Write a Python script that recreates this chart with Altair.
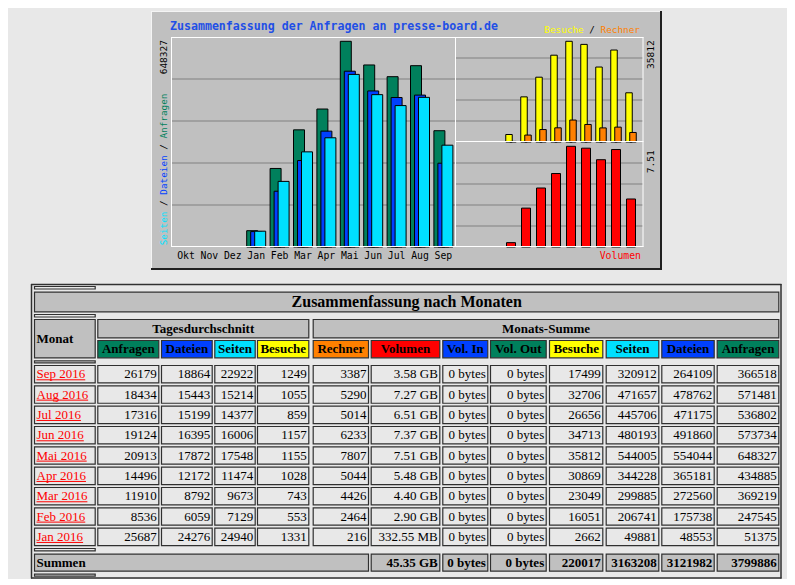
import altair as alt
import pandas as pd

# ---------------- values read from the Webalizer summary (newest month first) ----------------
monat = ["Sep 2016", "Aug 2016", "Jul 2016", "Jun 2016", "Mai 2016",
         "Apr 2016", "Mar 2016", "Feb 2016", "Jan 2016"]
tag_anfragen = [26179, 18434, 17316, 19124, 20913, 14496, 11910, 8536, 25687]
tag_dateien = [18864, 15443, 15199, 16395, 17872, 12172, 8792, 6059, 24276]
tag_seiten = [22922, 15214, 14377, 16006, 17548, 11474, 9673, 7129, 24940]
tag_besuche = [1249, 1055, 859, 1157, 1155, 1028, 743, 553, 1331]
sum_rechner = [3387, 5290, 5014, 6233, 7807, 5044, 4426, 2464, 216]
sum_volumen = ["3.58 GB", "7.27 GB", "6.51 GB", "7.37 GB", "7.51 GB",
               "5.48 GB", "4.40 GB", "2.90 GB", "332.55 MB"]
sum_vol_in = ["0 bytes"] * 9
sum_vol_out = ["0 bytes"] * 9
sum_besuche = [17499, 32706, 26656, 34713, 35812, 30869, 23049, 16051, 2662]
sum_seiten = [320912, 471657, 445706, 480193, 544005, 344228, 299885, 206741, 49881]
sum_dateien = [264109, 478762, 471175, 491860, 554044, 365181, 272560, 175738, 48553]
sum_anfragen = [366518, 571481, 536802, 573734, 648327, 434885, 369219, 247545, 51375]
summen = ["45.35 GB", "0 bytes", "0 bytes", "220017", "3163208", "3121982", "3799886"]

graph_months = ["Okt", "Nov", "Dez", "Jan", "Feb", "Mar", "Apr", "Mai", "Jun", "Jul", "Aug", "Sep"]
head_cols = ["Anfragen", "Dateien", "Seiten", "Besuche", "Rechner", "Volumen",
             "Vol. In", "Vol. Out", "Besuche", "Seiten", "Dateien", "Anfragen"]

# ---------------- styling ----------------
C_ANF, C_DAT, C_SEI = "#00805c", "#0040ff", "#00e0ff"
C_BES, C_REC, C_VOL = "#ffff00", "#ff8000", "#ff0000"
GREY, PAGE, DARK = "#c0c0c0", "#e8e8e8", "#303030"
head_colors = [C_ANF, C_DAT, C_SEI, C_BES, C_REC, C_VOL, C_DAT, C_ANF, C_BES, C_SEI, C_DAT, C_ANF]
MONO = "DejaVu Sans Mono"
SERIF = "Liberation Serif"
OFF = 8


def P(v):
    return round(v - OFF, 2)


def to_gb(s):
    v, u = s.split()
    return float(v) / 1024 if u == "MB" else float(v)


# chronological graph data (Jan .. Sep)
order = list(range(len(monat)))[::-1]
g = pd.DataFrame({
    "mon": [monat[i].split()[0] for i in order],
    "anfragen": [sum_anfragen[i] for i in order],
    "dateien": [sum_dateien[i] for i in order],
    "seiten": [sum_seiten[i] for i in order],
    "besuche": [sum_besuche[i] for i in order],
    "rechner": [sum_rechner[i] for i in order],
    "volumen": [to_gb(sum_volumen[i]) for i in order],
})


def rect_layer(df, **mk):
    return alt.Chart(df).mark_rect(**mk).encode(
        x=alt.X("x:Q", scale=None, axis=None), x2="x2:Q",
        y=alt.Y("y:Q", scale=None, axis=None), y2="y2:Q",
        fill=alt.Fill("fill:N", scale=None))


def line_layer(df):
    return alt.Chart(df).mark_rule().encode(
        x=alt.X("x:Q", scale=None, axis=None), x2="x2:Q",
        y=alt.Y("y:Q", scale=None, axis=None), y2="y2:Q",
        stroke=alt.Stroke("c:N", scale=None),
        strokeWidth=alt.StrokeWidth("w:Q", scale=None))


def text_layer(rows, **mk):
    return alt.Chart(pd.DataFrame(rows)).mark_text(**mk).encode(
        x=alt.X("x:Q", scale=None, axis=None), y=alt.Y("y:Q", scale=None, axis=None),
        text="t:N", color=alt.Color("c:N", scale=None))


def L(x, x2, y, y2, c, w=1):
    return {"x": P(x), "x2": P(x2), "y": P(y), "y2": P(y2), "c": c, "w": w}


layers = []

# ---------------- graphic box ----------------
layers.append(rect_layer(pd.DataFrame([{"x": P(151), "x2": P(662), "y": P(11), "y2": P(270), "fill": GREY}])))
layers.append(line_layer(pd.DataFrame([
    L(151, 662, 11.5, 11.5, "#f4f4f4"), L(151.5, 151.5, 11, 270, "#f4f4f4"),
    L(151, 662, 269, 269, "#202020", 2), L(661, 661, 11, 270, "#202020", 2),
])))

# scales
MX0, MX1, MT, MB = 171, 455.7, 37, 247
main_ymax = max(sum_anfragen) * (MB - MT) / (MB - 41.3)
main_x = alt.Scale(type="band", domain=graph_months, range=[P(174.3), P(455.1)], paddingInner=0, paddingOuter=0)
main_y = alt.Scale(domain=[0, main_ymax], range=[P(MB), P(MT)], nice=False)

RX0, RX1, RT, RM, RB = 456, 643, 37, 142, 247
rt_ymax = max(sum_besuche) * (RM - RT) / (RM - 41.3)
rb_ymax = max(g["volumen"]) * (RB - RM) / (RB - 146.3)
r_x = alt.Scale(type="band", domain=graph_months, range=[P(458.5), P(638.5)], paddingInner=0, paddingOuter=0)
rt_y = alt.Scale(domain=[0, rt_ymax], range=[P(RM), P(RT)], nice=False)
rb_y = alt.Scale(domain=[0, rb_ymax], range=[P(RB), P(RM)], nice=False)


def grid(ymax, ys, x0, x1):
    df = pd.DataFrame({"v": [ymax * k / 5 for k in range(1, 5)]})
    return alt.Chart(df).mark_rule(color="#808080", strokeWidth=1).encode(
        y=alt.Y("v:Q", scale=ys, axis=None), x=alt.value(P(x0)), x2=alt.value(P(x1)))


layers += [grid(main_ymax, main_y, MX0, MX1), grid(rt_ymax, rt_y, RX0, RX1), grid(rb_ymax, rb_y, RX0, RX1)]


def bars(field, color, xs, ys, size, xoff):
    return alt.Chart(g).mark_bar(size=size, xOffset=xoff, fill=color, stroke="black", strokeWidth=1).encode(
        x=alt.X("mon:N", scale=xs, axis=None),
        y=alt.Y(f"{field}:Q", scale=ys, axis=None))


layers += [
    bars("anfragen", C_ANF, main_x, main_y, 11, -4),
    bars("dateien", C_DAT, main_x, main_y, 11, 0),
    bars("seiten", C_SEI, main_x, main_y, 11, 4),
    bars("besuche", C_BES, r_x, rt_y, 6.5, -2),
    bars("rechner", C_REC, r_x, rt_y, 6.5, 2),
    bars("volumen", C_VOL, r_x, rb_y, 9, 0),
]

# panel frames
layers.append(line_layer(pd.DataFrame([
    L(MX0, 643.5, 37.5, 37.5, "#ffffff"), L(MX0, 643.5, 246.5, 246.5, "#ffffff"),
    L(171.5, 171.5, 37, 247, "#ffffff"), L(455.5, 455.5, 37, 247, "#ffffff"),
    L(456, 643.5, 141.5, 141.5, "#ffffff"), L(643, 643, 37, 247, "#ffffff"),
])))

# month labels through the main band scale
layers.append(alt.Chart(pd.DataFrame({"mon": graph_months})).mark_text(
    font=MONO, fontSize=9.8, baseline="middle", color="black").encode(
    x=alt.X("mon:N", scale=main_x, axis=None), y=alt.value(P(255.5)), text="mon:N"))

# graph texts
layers.append(text_layer([{"x": P(170), "y": P(26.5), "t": "Zusammenfassung der Anfragen an presse-board.de", "c": "#1f4fe6"}],
                         font=MONO, fontSize=11.6, fontWeight="bold", align="left", baseline="middle"))
CW = 5.62  # character cell of the small graph font
lg_x = 544.3
layers.append(text_layer([
    {"x": P(lg_x), "y": P(29.5), "t": "Besuche", "c": C_BES},
    {"x": P(lg_x + 8 * CW), "y": P(29.5), "t": "/", "c": "#000000"},
    {"x": P(lg_x + 10 * CW), "y": P(29.5), "t": "Rechner", "c": C_REC},
], font=MONO, fontSize=9.35, align="left", baseline="middle"))
layers.append(text_layer([{"x": P(641), "y": P(256), "t": "Volumen", "c": C_VOL}],
                         font=MONO, fontSize=9.8, align="right", baseline="middle"))
# vertical labels (text start at the bottom, reading upwards)
VX, VB = 163.7, 245.3
layers.append(text_layer([
    {"x": P(VX), "y": P(40), "t": str(max(sum_anfragen)), "c": "#000000"},
    {"x": P(650.8), "y": P(40.3), "t": str(max(sum_besuche)), "c": "#000000"},
    {"x": P(650.8), "y": P(150.3), "t": "%.2f" % max(g["volumen"]), "c": "#000000"},
], font=MONO, fontSize=9.5, angle=270, align="right", baseline="middle"))
layers.append(text_layer([
    {"x": P(VX), "y": P(VB), "t": "Seiten", "c": C_SEI},
    {"x": P(VX), "y": P(VB - 7 * CW), "t": "/", "c": "#000000"},
    {"x": P(VX), "y": P(VB - 9 * CW), "t": "Dateien", "c": C_DAT},
    {"x": P(VX), "y": P(VB - 17 * CW), "t": "/", "c": "#000000"},
    {"x": P(VX), "y": P(VB - 19 * CW), "t": "Anfragen", "c": C_ANF},
], font=MONO, fontSize=9.35, angle=270, align="left", baseline="middle"))

# ---------------- table ----------------
col_edges = [(34, 95.7), (97.3, 159.3), (161, 212.7), (214.3, 255.7), (257, 309.3), (312.7, 369),
             (370.7, 440.3), (442.3, 488.3), (490, 546.7), (549, 603.3), (605.7, 659.3),
             (661.3, 714.7), (716.7, 779.3)]
cells = []


def cell(x0, x1, y0, y1, fill):
    cells.append({"x": P(x0) + 0.5, "x2": P(x1) - 0.5, "y": P(y0) + 0.5, "y2": P(y1) - 0.5, "fill": fill})


for (a, b) in [(286, 289.5), (314, 317.5), (360.3, 363.3), (548, 551.3), (573.7, 576.7)]:
    cell(34, 95.7, a, b, PAGE)
cell(34, 779.3, 291.7, 312.3, GREY)
cell(34, 95.7, 319, 358.3, GREY)
cell(97.3, 309.3, 319, 338.3, GREY)
cell(312.7, 779.3, 319, 338.3, GREY)
for j in range(1, 13):
    cell(col_edges[j][0], col_edges[j][1], 340, 358.3, head_colors[j - 1])
ROW0, PITCH, RH = 365, 20.33, 18.4
for i in range(len(monat)):
    y0 = ROW0 + i * PITCH
    for (a, b) in col_edges:
        cell(a, b, y0, y0 + RH, PAGE)
SY0, SY1 = 553.7, 571.7
cell(34, 369, SY0, SY1, GREY)
for j in range(6, 13):
    cell(col_edges[j][0], col_edges[j][1], SY0, SY1, GREY)

layers.append(line_layer(pd.DataFrame([
    L(31, 781.5, 284.5, 284.5, DARK, 1.5), L(31.5, 31.5, 284, 578.5, DARK, 1.5),
    L(31, 781.5, 578, 578, DARK, 1.5), L(781, 781, 284, 578.5, DARK, 1.5),
])))
layers.append(rect_layer(pd.DataFrame(cells), stroke=DARK, strokeWidth=1.2))

# header texts
layers.append(text_layer([{"x": P(406.7), "y": P(306.5), "t": "Zusammenfassung nach Monaten", "c": "#000000"}],
                         font=SERIF, fontSize=16, fontWeight="bold", align="center", baseline="alphabetic"))
hdr = [{"x": P(203.3), "y": P(332.6), "t": "Tagesdurchschnitt", "c": "#000000"},
       {"x": P(546), "y": P(332.6), "t": "Monats-Summe", "c": "#000000"}]
for j in range(1, 13):
    a, b = col_edges[j]
    hdr.append({"x": P((a + b) / 2), "y": P(353.4), "t": head_cols[j - 1], "c": "#000000"})
layers.append(text_layer(hdr, font=SERIF, fontSize=13, fontWeight="bold", align="center", baseline="alphabetic"))
layers.append(text_layer([{"x": P(36.5), "y": P(343.2), "t": "Monat", "c": "#000000"},
                          {"x": P(36.5), "y": P(566.7), "t": "Summen", "c": "#000000"}],
                         font=SERIF, fontSize=13, fontWeight="bold", align="left", baseline="alphabetic"))

# data texts
TW = {" ": 0.25, "0": 0.5, "1": 0.5, "2": 0.5, "6": 0.5, "S": 0.556, "e": 0.444, "p": 0.5, "A": 0.722,
      "u": 0.5, "g": 0.5, "J": 0.389, "l": 0.278, "n": 0.5, "M": 0.889, "a": 0.444, "i": 0.278,
      "r": 0.333, "F": 0.556, "b": 0.5}
num_cols = [tag_anfragen, tag_dateien, tag_seiten, tag_besuche, sum_rechner, sum_volumen,
            sum_vol_in, sum_vol_out, sum_besuche, sum_seiten, sum_dateien, sum_anfragen]
nums, links, unders = [], [], []
for i in range(len(monat)):
    y0 = ROW0 + i * PITCH
    links.append({"x": P(36.5), "y": P(y0 + 13.3), "t": monat[i], "c": C_VOL})
    w = sum(TW.get(ch, 0.5) for ch in monat[i]) * 13
    unders.append(L(36.5, 36.5 + w, y0 + 14.8, y0 + 14.8, C_VOL, 1))
    for j, col in enumerate(num_cols, start=1):
        nums.append({"x": P(col_edges[j][1] - 2.5), "y": P(y0 + 13.3), "t": str(col[i]), "c": "#000000"})
layers.append(text_layer(nums, font=SERIF, fontSize=13, align="right", baseline="alphabetic"))
layers.append(text_layer(links, font=SERIF, fontSize=13, align="left", baseline="alphabetic"))
layers.append(line_layer(pd.DataFrame(unders)))
tot = [{"x": P(col_edges[j][1] - 2.5), "y": P(566.7), "t": summen[j - 6], "c": "#000000"} for j in range(6, 13)]
layers.append(text_layer(tot, font=SERIF, fontSize=13, fontWeight="bold", align="right", baseline="alphabetic"))

chart = alt.layer(*layers).resolve_scale(x="independent", y="independent").properties(
    width=779, height=571, padding=0, background=PAGE,
    autosize=alt.AutoSizeParams(type="none"),
).configure_view(strokeWidth=0)

chart.save("out.html", embed_options={"renderer": "svg", "actions": False})
